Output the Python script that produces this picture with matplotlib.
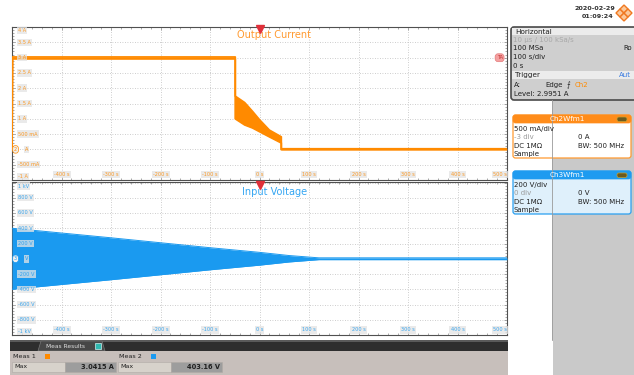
import matplotlib
matplotlib.use("Agg")
import matplotlib.pyplot as plt
import numpy as np
from matplotlib.patches import Rectangle, FancyBboxPatch, Polygon
from matplotlib.transforms import blended_transform_factory

# ---------------- data ----------------
time_ticks = [-400, -300, -200, -100, 0, 100, 200, 300, 400, 500]
time_labels = ['-400 s', '-300 s', '-200 s', '-100 s', '0 s', '100 s', '200 s', '300 s', '400 s', '500 s']
cur_ticks = [4, 3.5, 3, 2.5, 2, 1.5, 1, 0.5, -0.5, -1]
cur_labels = ['4 A', '3.5 A', '3 A', '2.5 A', '2 A', '1.5 A', '1 A', '500 mA', '-500 mA', '-1 A']
volt_ticks = [1000, 800, 600, 400, 200, -200, -400, -600, -800, -1000]
volt_labels = ['1 kV', '800 V', '600 V', '400 V', '200 V', '-200 V', '-400 V', '-600 V', '-800 V', '-1 kV']

# output current trace (band: upper / lower edge)
cur_t     = [-500, -499, -49, -49, -30, -14, 0, 20, 44, 44, 500]
cur_upper = [0.0, 3.02, 3.02, 1.74, 1.53, 1.24, 0.97, 0.63, 0.41, 0.02, 0.02]
cur_lower = [0.0, 2.96, 2.96, 1.00, 0.80, 0.70, 0.58, 0.41, 0.21, -0.01, -0.01]

# input voltage envelope (symmetric around 0 V)
volt_t   = [-500, -300, -100, 0, 60, 120, 500]
volt_env = [400, 275, 145, 84, 42, 12, 12]

trigger_time = 0
trigger_level = 2.9951
meas_names = ['Meas 1', 'Meas 2']
meas_values = ['3.0415 A', '403.16 V']

ORANGE = '#FF8A00'
BLUE = '#1A9AF0'
W, H = 634, 375

fig = plt.figure(figsize=(W / 100, H / 100), dpi=100)
fig.patch.set_facecolor('white')


def make_axes(ytop, ybot, ylim, yticks):
    ax = fig.add_axes([12 / W, 1 - ybot / H, (507 - 12) / W, (ybot - ytop) / H])
    ax.set_xlim(-500, 500)
    ax.set_ylim(*ylim)
    ax.set_xticks(np.arange(-500, 501, 100))
    ax.set_yticks(np.linspace(ylim[0], ylim[1], 11))
    ax.set_xticks(np.arange(-500, 501, 20), minor=True)
    ax.set_yticks(np.linspace(ylim[0], ylim[1], 51), minor=True)
    ax.tick_params(which='both', direction='in', top=True, right=True,
                   labelbottom=False, labelleft=False, color='#888888', width=0.5)
    ax.tick_params(which='major', length=2.5)
    ax.tick_params(which='minor', length=1.2)
    ax.grid(True, which='major', color='#bdbdbd', lw=0.6, ls=(0, (1, 2)))
    for s in ax.spines.values():
        s.set_color('#505050')
        s.set_linewidth(0.8)
    return ax


ax1 = make_axes(27, 180, (-1, 4), cur_ticks)
ax2 = make_axes(182.5, 335, (-1000, 1000), volt_ticks)

# traces
ax1.fill_between(cur_t, cur_lower, cur_upper, color=ORANGE, lw=0, zorder=3)
ax1.plot(cur_t, cur_upper, color=ORANGE, lw=1.3, zorder=3)
ax1.plot(cur_t, cur_lower, color=ORANGE, lw=1.3, zorder=3)

venv = np.array(volt_env, dtype=float)
ax2.fill_between(volt_t, -venv, venv, color=BLUE, lw=0, zorder=3)
ax2.plot(volt_t, venv, color=BLUE, lw=0.7, zorder=3)
ax2.plot(volt_t, -venv, color=BLUE, lw=0.7, zorder=3)


def axis_labels(ax, ticks, labels, color, ylim):
    tr = blended_transform_factory(ax.transAxes, ax.transData)
    for v, lab in zip(ticks, labels):
        va = 'center'
        yy = v
        if v == ylim[1]:
            va = 'top'
            yy = v - (ylim[1] - ylim[0]) * 0.008
        elif v == ylim[0]:
            va = 'bottom'
            yy = v + (ylim[1] - ylim[0]) * 0.008
        ax.text(0.012, yy, lab, transform=tr, fontsize=3.6, color=color, alpha=0.85,
                ha='left', va=va, zorder=5,
                bbox=dict(boxstyle='square,pad=0.25', fc='#e4e4e4', ec='none', alpha=0.75))
    trx = blended_transform_factory(ax.transData, ax.transAxes)
    for v, lab in zip(time_ticks, time_labels):
        ha = 'right' if v == 500 else 'center'
        xx = 499 if v == 500 else v
        ax.text(xx, 0.018, lab, transform=trx, fontsize=3.6, color=color, alpha=0.85,
                ha=ha, va='bottom', zorder=5,
                bbox=dict(boxstyle='square,pad=0.25', fc='#e4e4e4', ec='none', alpha=0.75))


axis_labels(ax1, cur_ticks, cur_labels, ORANGE, (-1, 4))
axis_labels(ax2, volt_ticks, volt_labels, BLUE, (-1000, 1000))

# channel ground markers
for ax, num, unit, col in [(ax1, '2', 'A', ORANGE), (ax2, '3', 'V', BLUE)]:
    tr = blended_transform_factory(ax.transAxes, ax.transData)
    ax.text(0.004, 0, num, transform=tr, fontsize=3.6, color=col, ha='left', va='center', zorder=6,
            bbox=dict(boxstyle='round,pad=0.25,rounding_size=0.5', fc='#f0f0f0', ec=col, lw=0.5))
    ax.text(0.026, 0, unit, transform=tr, fontsize=3.6, color=col, ha='left', va='center', zorder=6,
            bbox=dict(boxstyle='square,pad=0.25', fc='#e4e4e4', ec='none', alpha=0.75))

# titles
ax1.text(0.53, 0.945, 'Output Current', transform=ax1.transAxes, fontsize=7, color='#FF9A30',
         ha='center', va='center', zorder=6)
ax2.text(0.53, 0.935, 'Input Voltage', transform=ax2.transAxes, fontsize=7, color='#35A6F2',
         ha='center', va='center', zorder=6)

# trigger markers
for ax in (ax1, ax2):
    trt = blended_transform_factory(ax.transData, ax.transAxes)
    ax.plot([trigger_time], [0.985], marker='v', color='#E0303A', ms=5.5, mec='#E0303A',
            transform=trt, clip_on=False, zorder=7)
trl = blended_transform_factory(ax1.transAxes, ax1.transData)
ax1.text(0.985, trigger_level, 'TA', transform=trl, fontsize=3.6, color='#c03030', ha='center',
         va='center', zorder=7,
         bbox=dict(boxstyle='round,pad=0.3,rounding_size=0.6', fc='#f4a0a0', ec='#e07070', lw=0.4))

# ---------------- overlay (pixel coordinates) ----------------
ov = fig.add_axes([0, 0, 1, 1], zorder=10)
ov.set_xlim(0, W)
ov.set_ylim(H, 0)
ov.axis('off')
ov.patch.set_alpha(0)


def rect(x0, y0, x1, y1, **kw):
    ov.add_patch(Rectangle((x0, y0), x1 - x0, y1 - y0, **kw))


def rbox(x0, y0, x1, y1, r=2, **kw):
    ov.add_patch(FancyBboxPatch((x0, y0), x1 - x0, y1 - y0,
                                boxstyle=f'round,pad=0,rounding_size={r}', **kw))


def t(x, y, s, **kw):
    kw.setdefault('fontsize', 5)
    kw.setdefault('va', 'center')
    kw.setdefault('color', '#202020')
    ov.text(x, y, s, **kw)


# right side panel background
rect(552, 100, W, 340, fc='#c9c9c9', ec='none')
ov.plot([552, 552], [100, 340], color='#9a9a9a', lw=0.6)
rect(553, 340, W, H, fc='#c9c9c9', ec='none')

# Horizontal / trigger box
rbox(511, 27, 640, 100, r=3, fc='#cfcfcf', ec='#4a4a4a', lw=1.2)
rect(512, 28, 634, 35, fc='#ececec', ec='none')
rect(512, 71, 634, 79, fc='#ececec', ec='none')
t(515, 31.5, 'Horizontal', fontsize=5.2)
t(513, 40, '10 µs / 100 kSa/s', color='#a8a8a8')
t(513, 48.5, '100 MSa')
t(623, 48.5, 'Ro')
t(513, 57, '100 s/div')
t(513, 66, '0 s')
t(515, 75, 'Trigger', fontsize=5.2)
t(619, 75, 'Aut', color='#3a7be0')
t(514, 85, 'A:')
t(545, 85, 'Edge')
t(567, 85, '\u2a0d', fontsize=5)
t(575, 85, 'Ch2', color=ORANGE)
t(514, 94, 'Level: 2.9951 A')

# Ch2 box
rbox(513, 115, 631, 158, r=2.5, fc='white', ec='#FF9A30', lw=0.9)
rbox(513, 115, 631, 123, r=2.5, fc='#FF8C1A', ec='#FF8C1A', lw=0.5)
t(567, 119.3, 'Ch2Wfm1', color='white', ha='center', fontsize=5.2)
rbox(617, 117, 627, 121.5, r=2, fc='#6b5a20', ec='#c8a030', lw=0.5)
t(514, 128.5, '500 mA/div')
t(514, 137, '-3 div', color='#9a9a9a')
t(578, 137, '0 A')
t(514, 145.5, 'DC 1M\u03a9')
t(578, 145.5, 'BW: 500 MHz')
t(514, 154, 'Sample')

# Ch3 box
rbox(513, 171, 631, 214, r=2.5, fc='#dff0fb', ec='#2AA0F0', lw=0.9)
rbox(513, 171, 631, 179, r=2.5, fc='#1E9BF0', ec='#1E9BF0', lw=0.5)
t(567, 175.3, 'Ch3Wfm1', color='white', ha='center', fontsize=5.2)
rbox(617, 173, 627, 177.5, r=2, fc='#6b5a20', ec='#c8a030', lw=0.5)
t(514, 184.5, '200 V/div')
t(514, 193, '0 div', color='#9a9a9a')
t(578, 193, '0 V')
t(514, 201.5, 'DC 1M\u03a9')
t(578, 201.5, 'BW: 500 MHz')
t(514, 210, 'Sample')

# date / time and logo
t(595, 8.5, '2020-02-29', ha='center', fontsize=4.6, fontweight='bold', color='#303030')
t(598, 16.5, '01:09:24', ha='center', fontsize=4.6, fontweight='bold', color='#303030')
for dx, dy in [(0, 0), (4, -4), (4, 4), (8, 0)]:
    cx, cy = 620 + dx, 13 + dy
    ov.add_patch(Polygon([(cx, cy - 4), (cx + 4, cy), (cx, cy + 4), (cx - 4, cy)],
                         closed=True, fc='#FBC89A', ec='#F07820', lw=1.0))

# measurement results bar
rect(10, 340, 508, 351, fc='#2e2e2e', ec='none')
rect(10, 340, 508, 342, fc='#5a5a5a', ec='none')
ov.add_patch(Polygon([(38, 351), (41, 341), (102, 341), (105, 351)], closed=True,
                     fc='#474747', ec='#777777', lw=0.5))
t(46, 346, 'Meas Results', color='#e0e0e0', fontsize=4.2)
rect(95, 343, 101, 349, fc='#2fb8b0', ec='#cfeeee', lw=0.5)
rect(10, 351, 508, H, fc='#c7bfbb', ec='none')
for i, (name, val, col) in enumerate(zip(meas_names, meas_values, [ORANGE, BLUE])):
    x0 = 12 + i * 106
    t(x0 + 1, 357, name, fontsize=4.6)
    rect(x0 + 33, 354, x0 + 38, 359, fc=col, ec='none')
    rect(x0, 362, x0 + 53, 372, fc='#d7d2cb', ec='#b0aaa5', lw=0.4)
    rect(x0 + 53, 362, x0 + 104, 372, fc='#9d9d9d', ec='#b0aaa5', lw=0.4)
    t(x0 + 2, 367, 'Max', fontsize=4.6)
    t(x0 + 102, 367, val, ha='right', fontsize=4.8, fontweight='bold')

fig.savefig('out.png', dpi=100, facecolor='white')
